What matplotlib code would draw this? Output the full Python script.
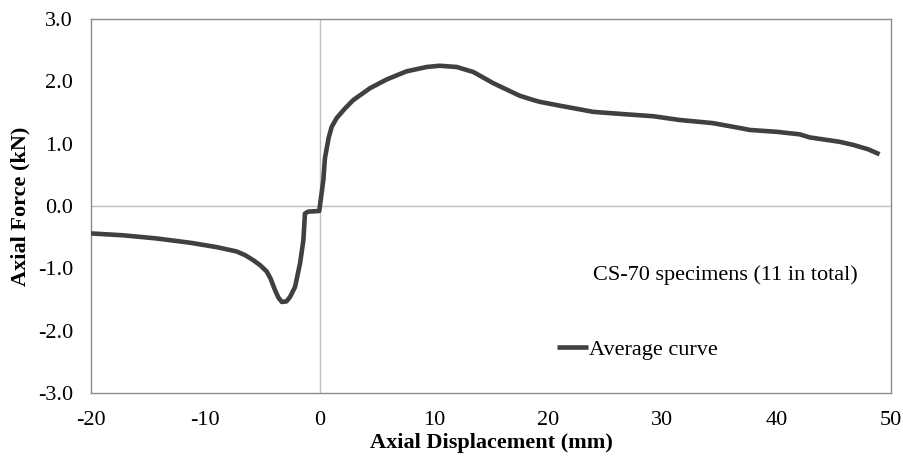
import matplotlib
matplotlib.use("Agg")
import matplotlib.pyplot as plt

# Average axial force-displacement curve for CS-70 specimens
displacement_mm = [-20.0, -17.2, -14.3, -11.3, -9.0, -7.25, -6.5, -5.8, -5.2, -4.63, -4.3,
                   -3.9, -3.6, -3.3, -2.9, -2.59, -2.15, -1.71, -1.42, -1.28, -0.99, -0.03,
                   0.33, 0.47, 0.8, 1.06, 1.49, 2.2, 2.95, 4.41, 5.87, 7.6, 9.37, 10.5,
                   12.0, 13.45, 15.2, 17.5, 18.7, 19.3, 21.0, 22.2, 23.95, 26.9, 29.2,
                   31.5, 34.4, 36.8, 37.65, 40.0, 42.0, 42.9, 45.5, 46.7, 48.0, 49.0]
force_kN = [-0.44, -0.47, -0.52, -0.59, -0.66, -0.73, -0.79, -0.87, -0.95, -1.05, -1.16,
            -1.35, -1.47, -1.54, -1.53, -1.46, -1.30, -0.92, -0.55, -0.12, -0.09, -0.08,
            0.42, 0.77, 1.1, 1.27, 1.41, 1.56, 1.70, 1.89, 2.03, 2.16, 2.23, 2.25,
            2.23, 2.15, 1.97, 1.77, 1.70, 1.67, 1.61, 1.57, 1.51, 1.47, 1.44,
            1.38, 1.33, 1.25, 1.22, 1.19, 1.15, 1.10, 1.03, 0.98, 0.91, 0.83]

x_ticks = [-20, -10, 0, 10, 20, 30, 40, 50]
y_ticks = [-3.0, -2.0, -1.0, 0.0, 1.0, 2.0, 3.0]

plt.rcParams['font.family'] = ['Liberation Serif', 'DejaVu Serif']
FS = 16

fig = plt.figure(figsize=(9.04, 4.59), dpi=100)
ax = fig.add_axes([0.1007, 0.1438, 0.8849, 0.8148])

line_color = '#404040'
ax.axhline(0, color='#bfbfbf', lw=1.0, zorder=1)
ax.axvline(0, color='#bfbfbf', lw=1.0, zorder=1)
ax.plot(displacement_mm, force_kN, color=line_color, lw=3.3,
        solid_capstyle='butt', solid_joinstyle='round', zorder=3,
        label='Average curve')

ax.set_xlim(-20, 50)
ax.set_ylim(-3.0, 3.0)
ax.set_xticks(x_ticks)
ax.set_yticks(y_ticks)
ax.set_xticklabels([f"{t:d}" for t in x_ticks])
ax.set_yticklabels([f"{t:.1f}" for t in y_ticks])
ax.tick_params(axis='both', length=0, labelsize=FS, colors='black')
ax.tick_params(axis='x', pad=13)
ax.tick_params(axis='y', pad=13)

for s in ax.spines.values():
    s.set_color('#8c8c8c')
    s.set_linewidth(1.0)

ax.set_xlabel('Axial Displacement (mm)', fontsize=FS, fontweight='bold', labelpad=2)
ax.set_ylabel('Axial Force (kN)', fontsize=FS, fontweight='bold', labelpad=5)

ax.text(0.793, 0.316, 'CS-70 specimens (11 in total)', transform=ax.transAxes,
        ha='center', va='center', fontsize=FS)

ax.legend(loc='center left', bbox_to_anchor=(0.5825, 0.115), frameon=False,
          fontsize=FS, handlelength=1.4, handletextpad=0.05, borderpad=0.0,
          borderaxespad=0.0)

fig.savefig('out.png', dpi=100)
